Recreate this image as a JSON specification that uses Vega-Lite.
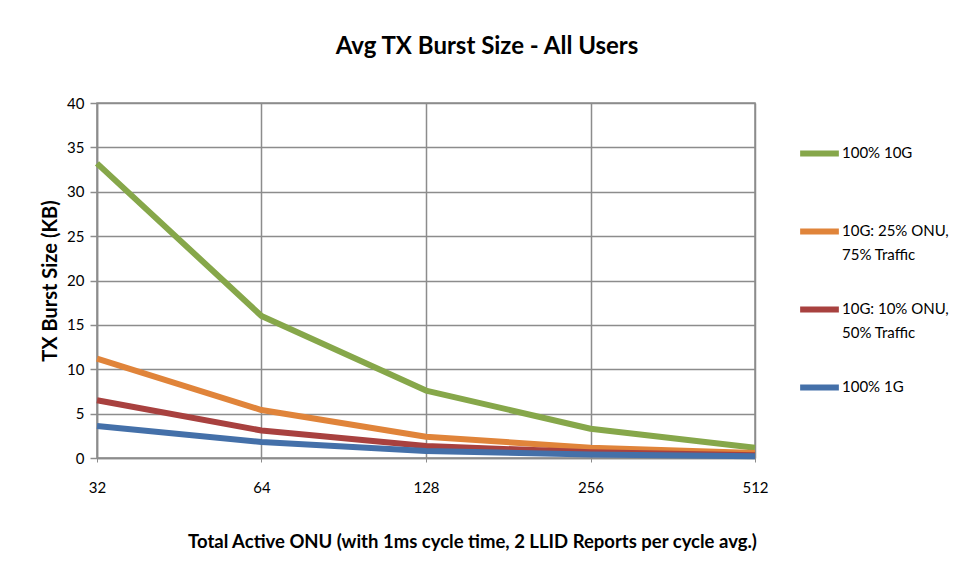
{
  "$schema": "https://vega.github.io/schema/vega-lite/v6.json",
  "autosize": "none",
  "width": 658,
  "height": 355,
  "padding": {"left": 97, "top": 103, "right": 205, "bottom": 121},
  "background": "white",
  "config": {
    "font": "Lato",
    "view": {"stroke": "#8c8c8c", "strokeWidth": 1.5}
  },
  "title": {
    "text": "Avg TX Burst Size - All Users",
    "fontSize": 24,
    "fontWeight": "bold",
    "font": "Lato",
    "color": "#000000",
    "anchor": "middle",
    "dx": 61,
    "offset": 37
  },
  "data": {
    "values": [
      {"onu": 32, "series": "100% 10G", "kb": 33.2},
      {"onu": 64, "series": "100% 10G", "kb": 16.0},
      {"onu": 128, "series": "100% 10G", "kb": 7.6},
      {"onu": 256, "series": "100% 10G", "kb": 3.3},
      {"onu": 512, "series": "100% 10G", "kb": 1.15},
      {"onu": 32, "series": "10G: 25% ONU,|75% Traffic", "kb": 11.2},
      {"onu": 64, "series": "10G: 25% ONU,|75% Traffic", "kb": 5.4},
      {"onu": 128, "series": "10G: 25% ONU,|75% Traffic", "kb": 2.4},
      {"onu": 256, "series": "10G: 25% ONU,|75% Traffic", "kb": 1.15},
      {"onu": 512, "series": "10G: 25% ONU,|75% Traffic", "kb": 0.55},
      {"onu": 32, "series": "10G: 10% ONU,|50% Traffic", "kb": 6.5},
      {"onu": 64, "series": "10G: 10% ONU,|50% Traffic", "kb": 3.1},
      {"onu": 128, "series": "10G: 10% ONU,|50% Traffic", "kb": 1.35},
      {"onu": 256, "series": "10G: 10% ONU,|50% Traffic", "kb": 0.65},
      {"onu": 512, "series": "10G: 10% ONU,|50% Traffic", "kb": 0.3},
      {"onu": 32, "series": "100% 1G", "kb": 3.6},
      {"onu": 64, "series": "100% 1G", "kb": 1.8},
      {"onu": 128, "series": "100% 1G", "kb": 0.8},
      {"onu": 256, "series": "100% 1G", "kb": 0.4},
      {"onu": 512, "series": "100% 1G", "kb": 0.2}
    ]
  },
  "mark": {"type": "line", "strokeWidth": 6, "strokeCap": "butt", "strokeJoin": "round"},
  "encoding": {
    "x": {
      "field": "onu",
      "type": "quantitative",
      "scale": {"type": "log", "base": 2, "domain": [32, 512], "nice": false},
      "axis": {
        "values": [32, 64, 128, 256, 512],
        "format": "d",
        "title": "Total Active ONU (with 1ms cycle time, 2 LLID Reports per cycle avg.)",
        "titleFontSize": 18.5,
        "titleFontWeight": "bold",
        "titleColor": "#000000",
        "titleX": 375,
        "titleY": 74,
        "titleAlign": "center",
        "labelFontSize": 15,
        "labelColor": "#000000",
        "labelPadding": 18,
        "labelFlush": false,
        "ticks": true,
        "tickSize": 4,
        "tickColor": "#8c8c8c",
        "domainColor": "#8c8c8c",
        "domainWidth": 1.5,
        "gridColor": "#8c8c8c",
        "gridWidth": 1.5,
        "gridOpacity": 1
      }
    },
    "y": {
      "field": "kb",
      "type": "quantitative",
      "scale": {"domain": [0, 40], "nice": false},
      "axis": {
        "values": [0, 5, 10, 15, 20, 25, 30, 35, 40],
        "title": "TX Burst Size (KB)",
        "titleFontSize": 20,
        "titleFontWeight": "bold",
        "titleColor": "#000000",
        "titlePadding": 6,
        "labelFontSize": 15,
        "labelColor": "#000000",
        "labelPadding": 6,
        "tickSize": 7,
        "tickColor": "#8c8c8c",
        "tickWidth": 1.5,
        "domainColor": "#8c8c8c",
        "domainWidth": 1.5,
        "gridColor": "#8c8c8c",
        "gridWidth": 1.5,
        "gridOpacity": 1
      }
    },
    "color": {
      "field": "series",
      "type": "nominal",
      "sort": ["100% 10G", "10G: 25% ONU,|75% Traffic", "10G: 10% ONU,|50% Traffic", "100% 1G"],
      "scale": {
        "domain": ["100% 10G", "10G: 25% ONU,|75% Traffic", "10G: 10% ONU,|50% Traffic", "100% 1G"],
        "range": ["#86a74a", "#e0843a", "#a8413f", "#4470a9"]
      },
      "legend": {
        "title": null,
        "orient": "none",
        "legendX": 700,
        "legendY": 28,
        "symbolType": "stroke",
        "symbolSize": 1500,
        "symbolStrokeWidth": 6,
        "labelFontSize": 15,
        "labelColor": "#000000",
        "labelOffset": 0,
        "labelBaseline": "top",
        "labelExpr": "split(datum.label, '|')",
        "gridAlign": "all",
        "rowPadding": 24,
        "encode": {
          "labels": {"update": {"lineHeight": {"value": 24}, "dy": {"value": -8}}}
        }
      }
    }
  }
}
